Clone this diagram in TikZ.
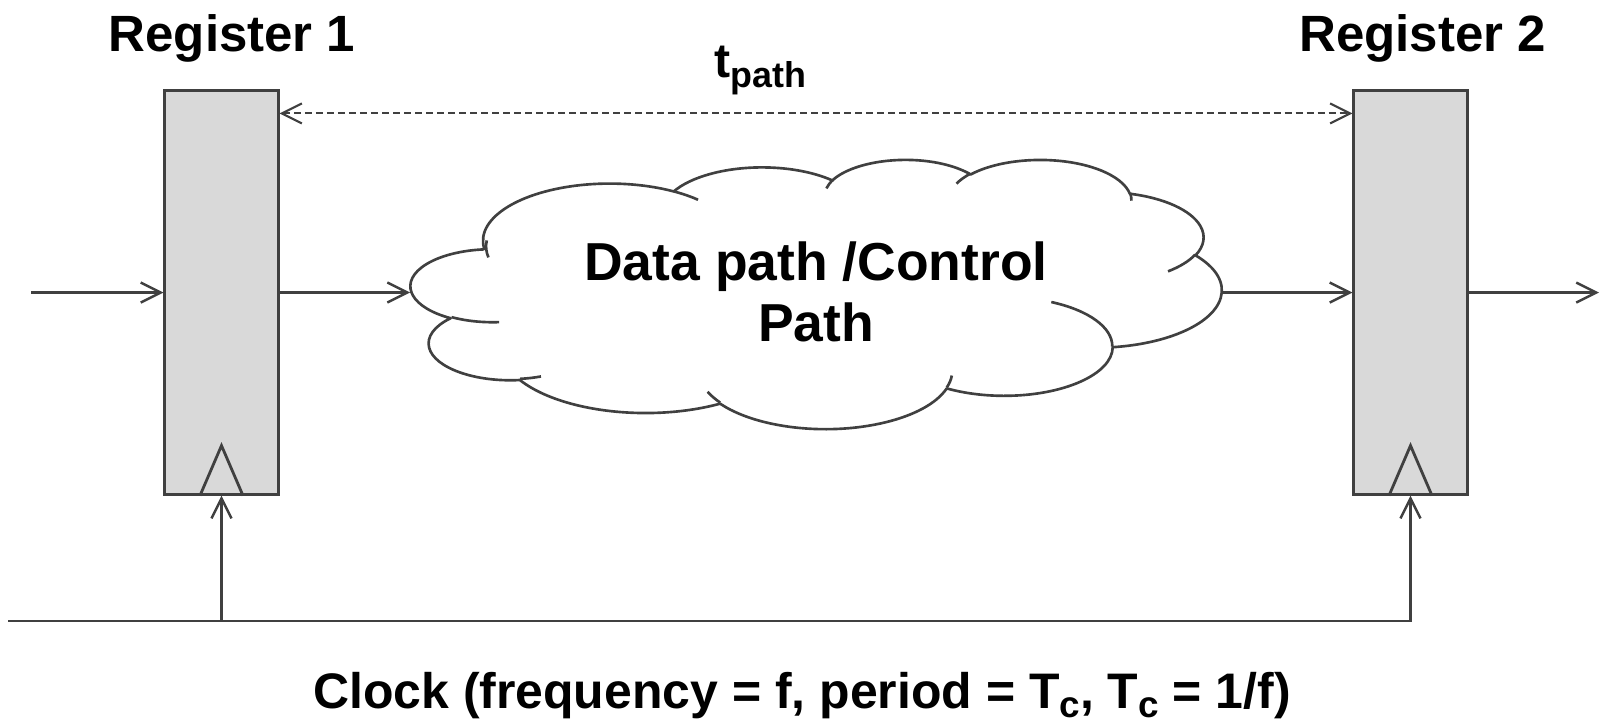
\documentclass[tikz,border=0pt]{standalone}
\usepackage{fontspec}
\setmainfont{Liberation Sans}
\usetikzlibrary{arrows.meta}
\definecolor{linegray}{HTML}{404040}
\definecolor{regfill}{HTML}{D9D9D9}
% lowered small index letter
\newcommand\lowidx[1]{\raisebox{-0.09cm}{\fontsize{10.5pt}{12pt}\selectfont #1}}
\tikzset{
  % elliptical arc given by radii, start angle and sweep measured as ray angles
  ooarc/.style n args={4}{
    x radius=#1cm, y radius=#2cm,
    start angle={atan2((#1)*sin(#3),(#2)*cos(#3))},
    delta angle={Mod(atan2((#1)*sin((#3)+(#4)),(#2)*cos((#3)+(#4)))-atan2((#1)*sin(#3),(#2)*cos(#3))+180,360)-180}},
  wire/.style={draw=linegray, line width=0.7pt},
  barb/.tip={Straight Barb[length=0.2cm,width=0.2cm]},
  arrowed/.style={wire, -barb},
  regbox/.style={draw=linegray, fill=regfill, line width=0.85pt,
    minimum width=1.13cm, minimum height=4.03cm, inner sep=0pt},
  cloudline/.style={draw=linegray, line width=0.75pt, line join=round},
  lbl/.style={inner sep=0pt, font=\fontsize{14.5pt}{17pt}\selectfont\bfseries},
  bigtxt/.style={inner sep=0pt, font=\fontsize{15.2pt}{18pt}\selectfont\bfseries},
  clktxt/.style={inner sep=0pt, font=\fontsize{14.2pt}{17pt}\selectfont\bfseries},
}
\begin{document}
\begin{tikzpicture}[x=0.01cm, y=-0.01cm]
\useasboundingbox (0,0) rectangle (1600,720);

% registers
\node[regbox] (r1) at (221.5,292.5) {};
\node[regbox] (r2) at (1410.5,292.5) {};
\draw[wire, line width=0.8pt] ([xshift=-0.215cm]r1.south) -- ([yshift=0.5cm]r1.south) -- ([xshift=0.215cm]r1.south);
\draw[wire, line width=0.8pt] ([xshift=-0.215cm]r2.south) -- ([yshift=0.5cm]r2.south) -- ([xshift=0.215cm]r2.south);

% combinational cloud
\begin{scope}[shift={(411,159)}, x=1cm, y=1cm, xscale=0.1875, yscale=-0.062269]
\draw[cloudline, fill=white] (3.900,14.370)
  arc[ooarc={6.753}{9.190}{-190.4875}{123.7805}]
  arc[ooarc={5.333}{7.267}{-144.1024}{89.9452}]
  arc[ooarc={4.365}{5.945}{-145.8079}{99.7230}]
  arc[ooarc={4.857}{6.595}{-130.9861}{117.2417}]
  arc[ooarc={5.333}{7.273}{-78.7089}{109.0269}]
  arc[ooarc={6.775}{9.220}{-46.2673}{130.2690}]
  arc[ooarc={5.785}{7.867}{0.6250}{114.0333}]
  arc[ooarc={6.752}{9.215}{22.4516}{115.1726}]
  arc[ooarc={7.720}{10.543}{66.2426}{75.7110}]
  arc[ooarc={4.360}{5.918}{-274.9421}{146.7356}]
  arc[ooarc={4.345}{5.945}{-246.8285}{152.5189}]
  -- cycle;
\draw[cloudline]
  (4.693,26.177) arc[ooarc={4.345}{5.945}{86.7420}{26.4295}]
  (6.928,34.899) arc[ooarc={4.360}{5.918}{73.6105}{11.4475}]
  (16.478,39.090) arc[ooarc={6.752}{9.215}{137.6242}{14.0811}]
  (28.827,34.751) arc[ooarc={6.752}{9.215}{6.4533}{15.9984}]
  (34.129,22.954) arc[ooarc={5.785}{7.867}{-70.2924}{70.9174}]
  (41.798,15.354) arc[ooarc={5.333}{7.273}{30.3180}{27.7515}]
  (38.324,5.426) arc[ooarc={4.857}{6.595}{-13.7443}{14.8589}]
  (29.078,3.952) arc[ooarc={4.857}{6.595}{-149.1815}{18.1954}]
  (22.141,4.720) arc[ooarc={4.365}{5.945}{-163.4943}{17.6864}]
  (14.000,5.192) arc[ooarc={6.753}{9.190}{-66.7070}{12.3194}]
  (4.127,15.789) arc[ooarc={6.753}{9.190}{165.0971}{23.0782}];
\end{scope}
\node[inner sep=0pt, minimum width=8.1cm, minimum height=2.69cm] (cloud) at (816,292.5) {};

% labels
\node[lbl, anchor=base] (reg1lbl) at (232,51) {Register 1};
\node[lbl, anchor=base] (reg2lbl) at (1422.5,51) {Register 2};
\node[bigtxt, anchor=base] (dp1) at (816,280) {Data path /Control};
\node[bigtxt, anchor=base] (dp2) at (816,341) {Path};
\node[inner sep=0pt, anchor=base west, font=\bfseries] (tpath) at (714,77)
  {\fontsize{13.7pt}{16pt}\selectfont t\raisebox{-0.1cm}{\fontsize{10.2pt}{12pt}\selectfont path}};
\node[clktxt, anchor=base] (clk) at (802,708)
  {Clock (frequency = f, period = T\lowidx{c}, T\lowidx{c} = 1/f)};

% data connectors
\coordinate (inL) at (31,292.5);
\coordinate (outR) at (1599,292.5);
\draw[arrowed] (inL) -- (r1.west);
\draw[arrowed] (r1.east) -- (cloud.west);
\draw[arrowed] (cloud.east) -- (r2.west);
\draw[arrowed] (r2.east) -- (outR);

% path delay span
\draw[wire, line width=0.6pt, dash pattern=on 0.07cm off 0.04cm, barb-barb]
  ([yshift=-0.24cm]r1.north east) -- ([yshift=-0.24cm]r2.north west);

% clock distribution
\coordinate (clkL) at (8,621);
\draw[arrowed] (clkL) -- (clkL -| r2.south) -- (r2.south);
\draw[arrowed] (clkL -| r1.south) -- (r1.south);
\end{tikzpicture}
\end{document}
